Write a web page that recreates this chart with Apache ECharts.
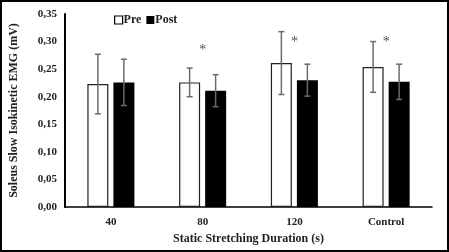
<!DOCTYPE html>
<html lang="en">
<head>
    <meta charset="UTF-8">
    <title>Soleus Slow Isokinetic EMG</title>
    <script src="https://cdn.jsdelivr.net/npm/echarts@6/dist/echarts.min.js"></script>
    <style>
        html, body { margin: 0; padding: 0; background: #fff; }
    </style>
</head>
<body>
    <div id="chart" style="width: 449px; height: 252px;"></div>
    <script>
        // data
        var categories = ['40', '80', '120', 'Control'];
        var preMean = [0.223, 0.226, 0.261, 0.254];
        var preSD = [0.054, 0.026, 0.057, 0.046];
        var postMean = [0.226, 0.211, 0.230, 0.227];
        var postSD = [0.042, 0.029, 0.029, 0.032];
        // height of the significance star (null = none)
        var starY = [null, 0.284, 0.298, 0.298];

        var font = '"Liberation Serif", "Times New Roman", serif';
        var chart = echarts.init(document.getElementById('chart'));

        var barW = 21;
        var half = 13; // distance from group centre to bar centre

        function errorSeries(mean, sd, side) {
            return {
                type: 'custom',
                name: 'err' + side,
                z: 5,
                silent: true,
                data: mean.map(function (m, i) { return [i, m - sd[i], m + sd[i]]; }),
                renderItem: function (params, api) {
                    var lo = api.coord([api.value(0), api.value(1)]);
                    var hi = api.coord([api.value(0), api.value(2)]);
                    var x = lo[0] + side * half;
                    var cap = 3;
                    var style = { stroke: '#6b6b6b', lineWidth: 1.5 };
                    return {
                        type: 'group',
                        children: [
                            { type: 'line', shape: { x1: x, y1: lo[1], x2: x, y2: hi[1] }, style: style },
                            { type: 'line', shape: { x1: x - cap, y1: lo[1], x2: x + cap, y2: lo[1] }, style: style },
                            { type: 'line', shape: { x1: x - cap, y1: hi[1], x2: x + cap, y2: hi[1] }, style: style }
                        ]
                    };
                }
            };
        }

        chart.setOption({
            animation: false,
            grid: { left: 63, right: 17, top: 14, bottom: 45 },
            graphic: [{
                type: 'rect',
                shape: { x: 1, y: 1, width: 447, height: 250 },
                style: { fill: 'none', stroke: '#000', lineWidth: 2 },
                silent: true
            }],
            legend: {
                data: [
                    { name: 'Pre', icon: 'rect', itemStyle: { color: '#fff', borderColor: '#000', borderWidth: 1.2 } },
                    { name: 'Post', icon: 'rect' }
                ],
                left: 109,
                top: 9,
                itemWidth: 8,
                itemHeight: 8,
                itemGap: 5,
                textStyle: { fontFamily: font, fontWeight: 'bold', fontSize: 12, color: '#222', padding: [0, 0, 0, -4] }
            },
            xAxis: {
                type: 'category',
                data: categories,
                name: 'Static Stretching Duration (s)',
                nameLocation: 'middle',
                nameGap: 25,
                nameTextStyle: { fontFamily: font, fontWeight: 'bold', fontSize: 12, color: '#222' },
                axisLine: { lineStyle: { color: '#000', width: 1.5 } },
                axisTick: { alignWithLabel: true, length: 3, lineStyle: { color: '#000' } },
                axisLabel: { fontFamily: font, fontWeight: 'bold', fontSize: 11, color: '#222', margin: 10 }
            },
            yAxis: {
                type: 'value',
                min: 0,
                max: 0.35,
                interval: 0.05,
                name: 'Soleus Slow Isokinetic EMG (mV)',
                nameLocation: 'middle',
                nameGap: 45,
                nameTextStyle: { fontFamily: font, fontWeight: 'bold', fontSize: 12, color: '#222' },
                axisLine: { show: true, lineStyle: { color: '#000', width: 2 } },
                axisTick: { show: false },
                splitLine: { show: false },
                axisLabel: {
                    fontFamily: font, fontWeight: 'bold', fontSize: 11, color: '#222', margin: 8,
                    formatter: function (v) { return v.toFixed(2).replace('.', ','); }
                }
            },
            series: [
                {
                    name: 'Pre',
                    type: 'bar',
                    data: preMean,
                    barWidth: barW,
                    barGap: '24%',
                    itemStyle: { color: '#fff', borderColor: '#222', borderWidth: 1.2 }
                },
                {
                    name: 'Post',
                    type: 'bar',
                    data: postMean,
                    barWidth: barW,
                    itemStyle: { color: '#000' }
                },
                errorSeries(preMean, preSD, -1),
                errorSeries(postMean, postSD, 1),
                {
                    name: 'sig',
                    type: 'scatter',
                    symbolSize: 0,
                    silent: true,
                    data: starY.map(function (v, i) { return v === null ? null : [i, v]; }),
                    label: {
                        show: true,
                        position: 'inside',
                        formatter: '*',
                        fontFamily: font,
                        fontSize: 14,
                        color: '#222'
                    }
                }
            ]
        });
    </script>
</body>
</html>
